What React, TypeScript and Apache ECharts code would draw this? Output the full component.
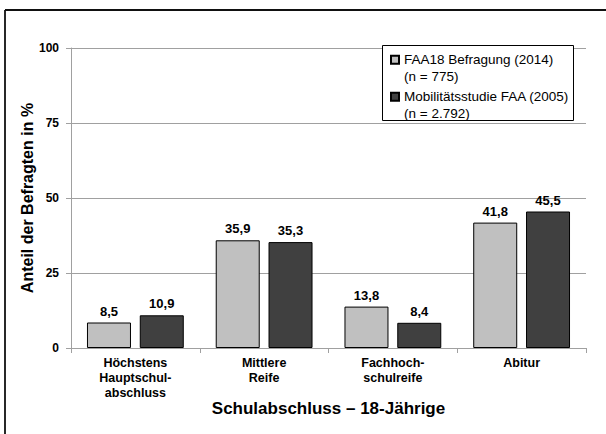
import { useEffect, useRef } from 'react';
import * as echarts from 'echarts';

// Abschlusskategorien (x-Achse)
const categories = [
  'Höchstens\nHauptschul-\nabschluss',
  'Mittlere\nReife',
  'Fachhoch-\nschulreife',
  'Abitur',
];

// Reihen und Stichprobengrößen
const seriesNames = ['FAA18 Befragung (2014)', 'Mobilitätsstudie FAA (2005)'];
const sampleSizes = ['(n = 775)', '(n = 2.792)'];

// Anteile in %
const faa18Values = [8.5, 35.9, 13.8, 41.8];
const mobilitaetValues = [10.9, 35.3, 8.4, 45.5];

// y-Achse
const yMin = 0;
const yMax = 100;
const yInterval = 25;

const FONT = '"Liberation Sans", Arial, Helvetica, sans-serif';
const colors = ['#c0c0c0', '#404040'];
const gridColor = '#a0a0a0';

const fmtDe = (v: number) => v.toFixed(1).replace('.', ',');

export default function App() {
  const ref = useRef<HTMLDivElement>(null);

  useEffect(() => {
    if (!ref.current) return;
    const chart = echarts.init(ref.current, undefined, { renderer: 'svg' });

    const values = [faa18Values, mobilitaetValues];
    const legendTops = [35, 72];

    chart.setOption({
      animation: false,
      backgroundColor: '#ffffff',
      textStyle: { fontFamily: FONT, color: '#000' },
      grid: {
        left: 71,
        right: 20,
        top: 48,
        bottom: 86,
        containLabel: false,
        outerBoundsMode: 'none',
      },
      legend: seriesNames.map((name, i) => ({
        data: [name],
        left: 390,
        top: legendTops[i],
        padding: 0,
        itemWidth: 8,
        itemHeight: 8,
        icon: 'rect',
        z: 10,
        selectedMode: false,
        formatter: (n: string) => '\n' + n + '\n' + sampleSizes[i],
        textStyle: {
          fontFamily: FONT,
          fontSize: 13.5,
          lineHeight: 16.5,
          color: '#000',
        },
      })),
      xAxis: {
        type: 'category',
        data: categories,
        axisLine: { lineStyle: { color: gridColor, width: 1 } },
        axisTick: { show: true, length: 5, alignWithLabel: false, lineStyle: { color: gridColor } },
        axisLabel: {
          interval: 0,
          fontFamily: FONT,
          fontSize: 12.5,
          fontWeight: 'bold',
          lineHeight: 15,
          color: '#000',
          margin: 7,
        },
        name: 'Schulabschluss – 18-Jährige',
        nameLocation: 'middle',
        nameGap: 52,
        nameMoveOverlap: false,
        nameTextStyle: {
          fontFamily: FONT,
          fontSize: 17,
          fontWeight: 'bold',
          color: '#000',
        },
      },
      yAxis: {
        type: 'value',
        min: yMin,
        max: yMax,
        interval: yInterval,
        axisLine: { show: true, lineStyle: { color: gridColor, width: 1 } },
        axisTick: { show: true, length: 5, lineStyle: { color: gridColor } },
        splitLine: { show: true, lineStyle: { color: gridColor, width: 1 } },
        axisLabel: {
          fontFamily: FONT,
          fontSize: 12,
          fontWeight: 'bold',
          color: '#000',
          margin: 12,
        },
        name: 'Anteil der Befragten in %',
        nameLocation: 'middle',
        nameRotate: 90,
        nameGap: 36,
        nameMoveOverlap: false,
        nameTextStyle: {
          fontFamily: FONT,
          fontSize: 16,
          fontWeight: 'bold',
          color: '#000',
        },
      },
      series: seriesNames.map((name, i) => ({
        name,
        type: 'bar',
        data: values[i],
        barWidth: 44,
        barGap: '20%',
        itemStyle: { color: colors[i], borderColor: '#000', borderWidth: 1 },
        label: {
          show: true,
          position: 'top',
          distance: 5,
          fontFamily: FONT,
          fontSize: 13,
          fontWeight: 'bold',
          color: '#000',
          formatter: (p: any) => fmtDe(p.value as number),
        },
      })),
      graphic: [
        // Legendenrahmen
        {
          type: 'rect',
          z: 5,
          shape: { x: 382.5, y: 45.5, width: 191, height: 75 },
          style: { fill: '#ffffff', stroke: '#000', lineWidth: 1 },
        },
        // Rahmen oben und links
        {
          type: 'line',
          z: 5,
          shape: { x1: 5, y1: 10, x2: 606, y2: 10 },
          style: { stroke: '#111', lineWidth: 1.8 },
        },
        {
          type: 'line',
          z: 5,
          shape: { x1: 5, y1: 10, x2: 5, y2: 434 },
          style: { stroke: '#111', lineWidth: 1.8 },
        },
      ],
    });

    return () => chart.dispose();
  }, []);

  return (
    <div
      ref={ref}
      style={{ position: 'absolute', left: 0, top: 0, width: 606, height: 434 }}
    />
  );
}
